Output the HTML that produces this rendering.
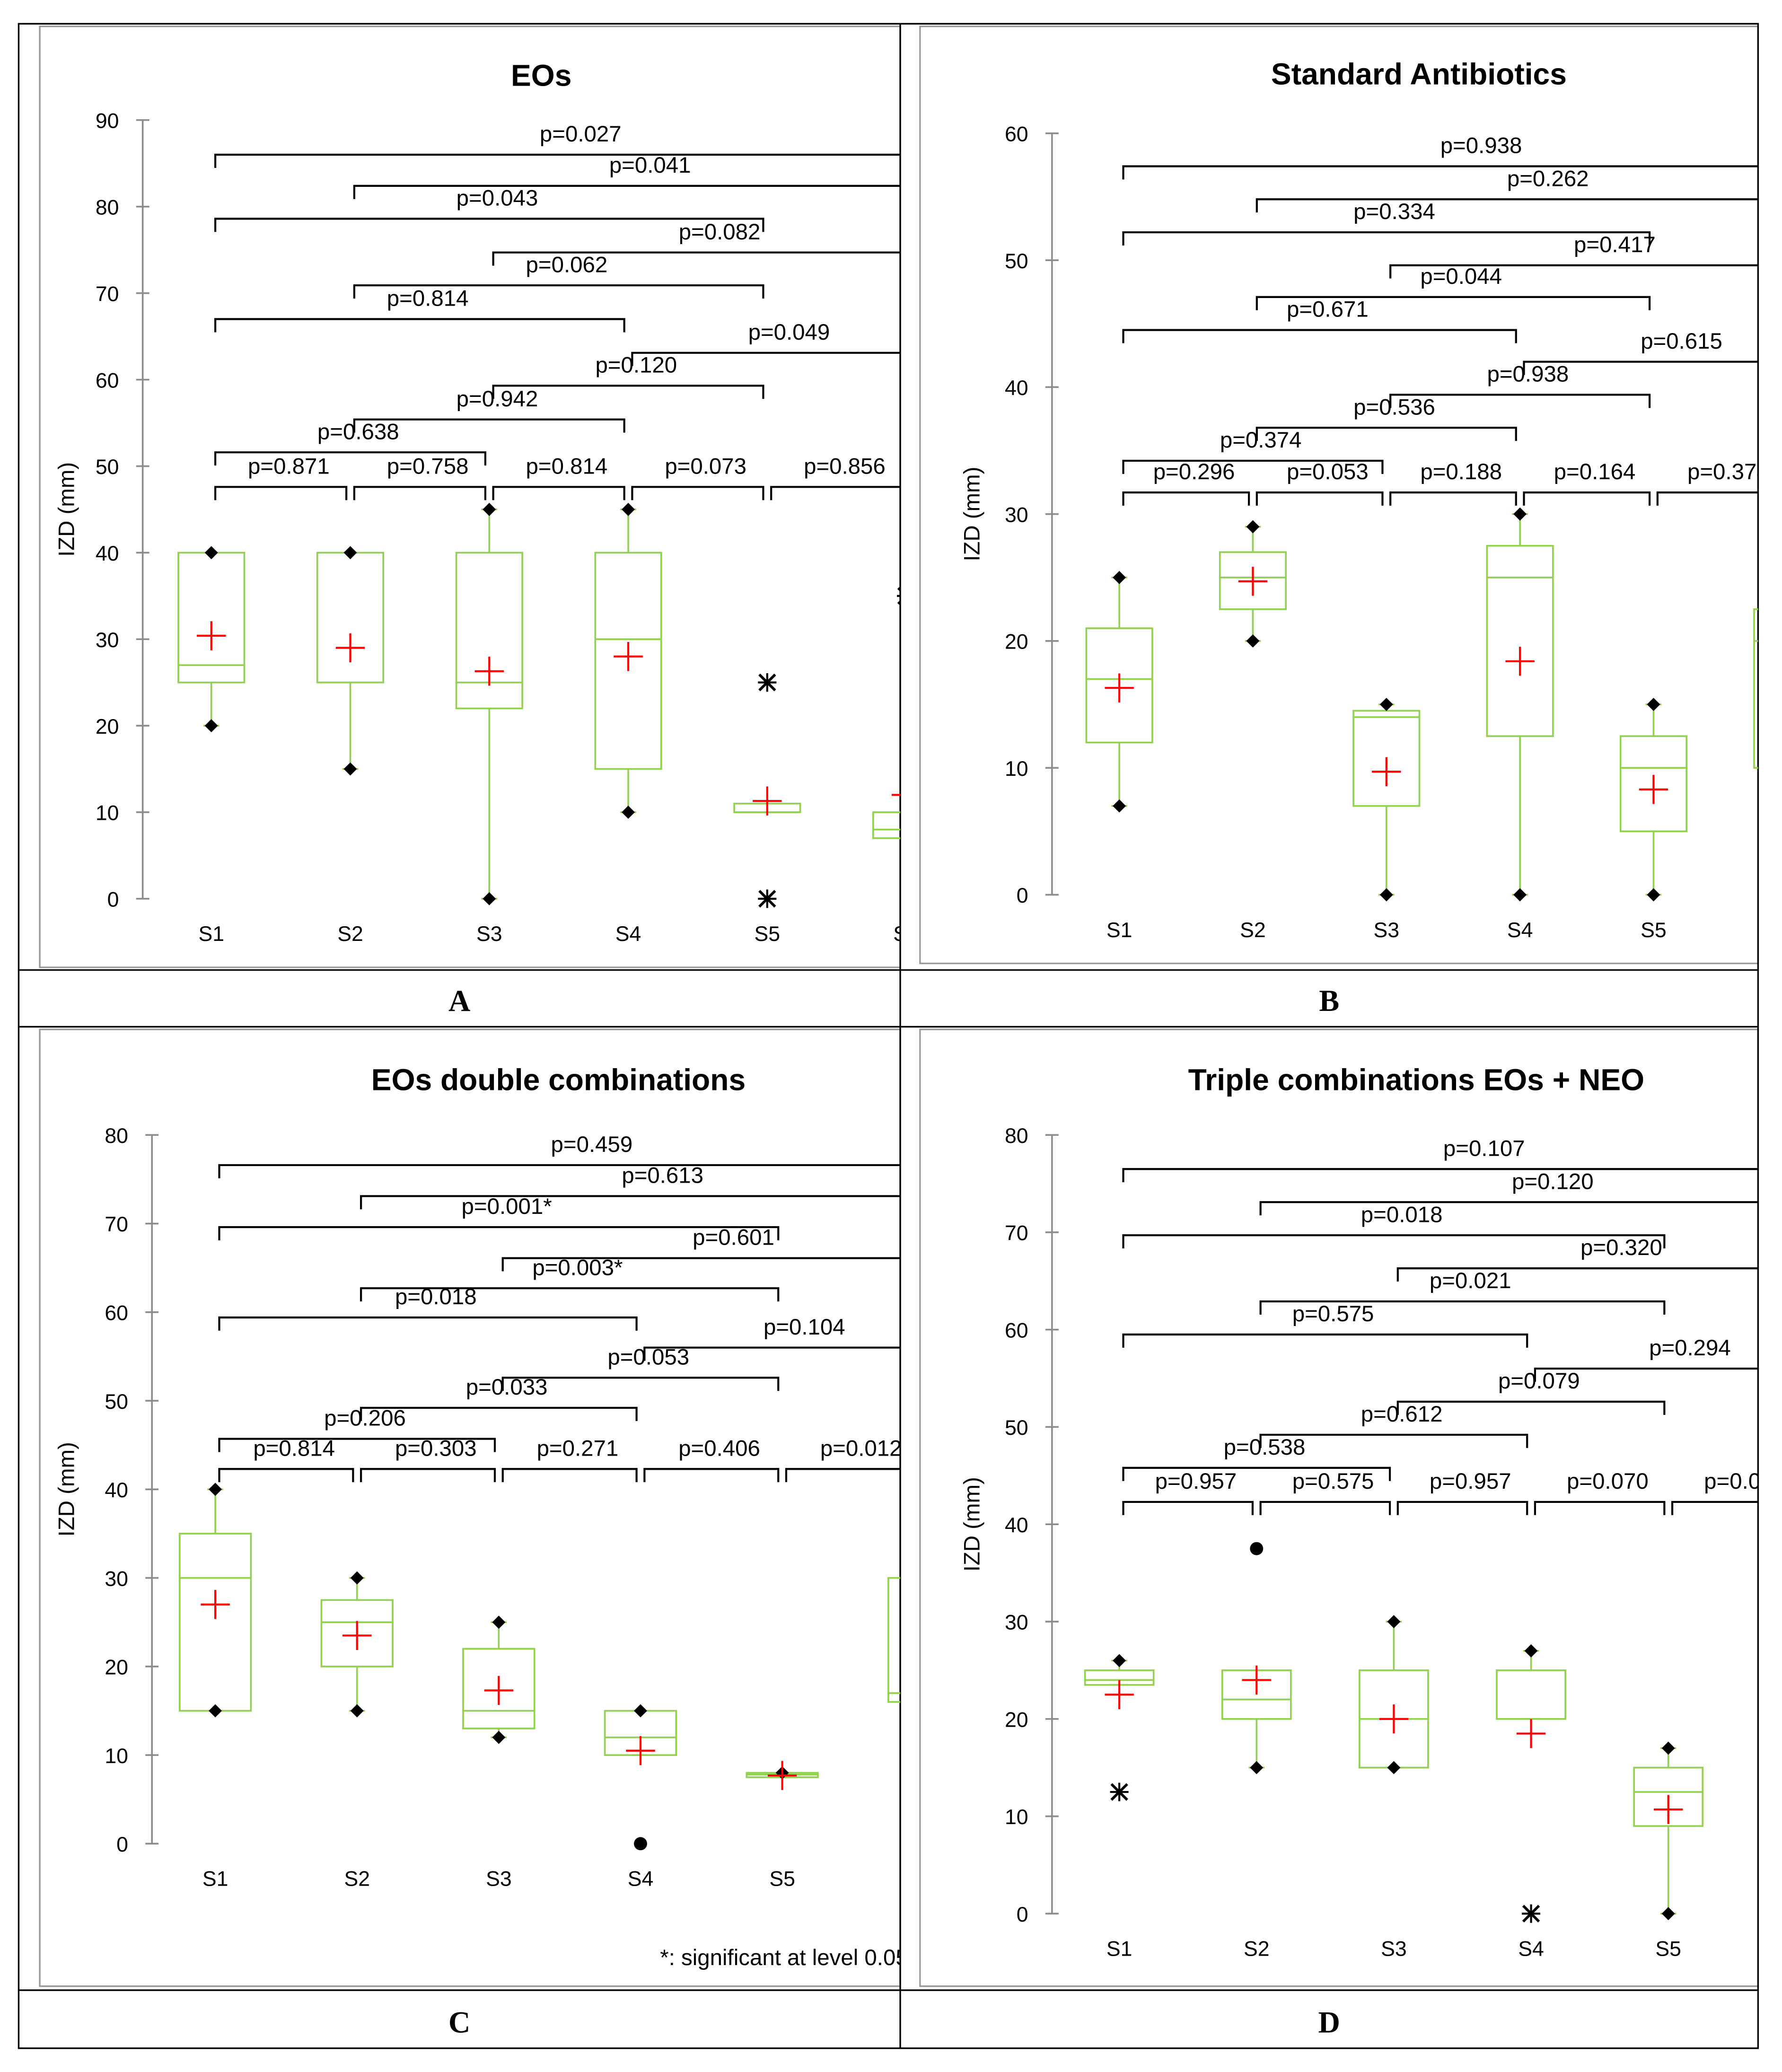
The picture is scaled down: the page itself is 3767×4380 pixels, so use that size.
<!DOCTYPE html>
<html><head><meta charset="utf-8">
<style>
html,body{margin:0;padding:0;background:#fff;}
svg{display:block;}
text{font-family:"Liberation Sans",sans-serif;}
</style></head>
<body>
<svg id="fig" xmlns="http://www.w3.org/2000/svg" width="3767" height="4380" viewBox="0 0 1350 1570">
<rect x="0" y="0" width="1350" height="1570" fill="#fff"/>
<defs>
<clipPath id="clipA"><rect x="30" y="20" width="652" height="713"/></clipPath>
<clipPath id="clipB"><rect x="697" y="20" width="635" height="712"/></clipPath>
<clipPath id="clipC"><rect x="30" y="780" width="652" height="725"/></clipPath>
<clipPath id="clipD"><rect x="697" y="780" width="635" height="725"/></clipPath>
</defs>
<g fill="none" stroke="#999" stroke-width="1.2">
<rect x="30" y="20" width="652" height="713"/>
<rect x="697" y="20" width="635" height="710"/>
<rect x="30" y="780" width="652" height="725"/>
<rect x="697" y="780" width="635" height="725"/>
</g>
<g fill="none" stroke="#000" stroke-width="1.2">
<rect x="14" y="18" width="1318" height="1534"/>
<line x1="14" y1="735" x2="1332" y2="735"/>
<line x1="14" y1="778" x2="1332" y2="778"/>
<line x1="14" y1="1508" x2="1332" y2="1508"/>
<line x1="682" y1="18" x2="682" y2="1552"/>
</g>
<g style="font-family:'Liberation Serif',serif;font-weight:bold;font-size:23px" text-anchor="middle">
<text style="font-family:'Liberation Serif',serif" x="348" y="766">A</text>
<text style="font-family:'Liberation Serif',serif" x="1007" y="766">B</text>
<text style="font-family:'Liberation Serif',serif" x="348" y="1540">C</text>
<text style="font-family:'Liberation Serif',serif" x="1007" y="1540">D</text>
</g>
<g id="panels"></g>
</svg>
<script>
// ---- Panel A: EOs ----
const catsA = ["S1","S2","S3","S4","S5","S6"];
const minA  = [20,15,0,10,10,7];
const q1A   = [25,25,22,15,10,7];
const medA  = [27,25,25,30,10,8];
const q3A   = [40,40,40,40,11,10];
const maxA  = [40,40,45,45,11,10];
const meanA = [30.4,29,26.3,28,11.3,12];
const minMarkA = [1,1,1,1,0,0];
const maxMarkA = [1,1,1,1,0,0];
const outA_cat = [4,4,5];
const outA_val = [25,0,35];
const brFromA = [0,1,0,2,1,0,3,2,1,0,0,1,2,3,4];
const brToA   = [5.2,5.2,4,5.2,4,3,5.2,4,3,2,1,2,3,4,5];
const brLevA  = [86,82.4,78.6,74.7,70.9,67,63.1,59.3,55.4,51.6,47.6,47.6,47.6,47.6,47.6];
const brLabA  = ["p=0.027","p=0.041","p=0.043","p=0.082","p=0.062","p=0.814","p=0.049","p=0.120","p=0.942","p=0.638","p=0.871","p=0.758","p=0.814","p=0.073","p=0.856"];
const ticksA = [0,10,20,30,40,50,60,70,80,90];

// ---- Panel B: Standard Antibiotics ----
const catsB = ["S1","S2","S3","S4","S5","S6"];
const minB  = [7,20,0,0,0,10];
const q1B   = [12,22.5,7,12.5,5,10];
const medB  = [17,25,14,25,10,20];
const q3B   = [21,27,14.5,27.5,12.5,22.5];
const maxB  = [25,29,15,30,15,22.5];
const meanB = [16.3,24.7,9.7,18.4,8.3,18];
const minMarkB = [1,1,1,1,1,0];
const maxMarkB = [1,1,1,1,1,0];
const outB_cat = [];
const outB_val = [];
const brFromB = [0,1,0,2,1,0,3,2,1,0,0,1,2,3,4];
const brToB   = [5.3,5.3,4,5.3,4,3,5.3,4,3,2,1,2,3,4,5];
const brLevB  = [57.4,54.8,52.2,49.6,47.1,44.5,42,39.4,36.8,34.2,31.7,31.7,31.7,31.7,31.7];
const brLabB  = ["p=0.938","p=0.262","p=0.334","p=0.417","p=0.044","p=0.671","p=0.615","p=0.938","p=0.536","p=0.374","p=0.296","p=0.053","p=0.188","p=0.164","p=0.374"];
const ticksB = [0,10,20,30,40,50,60];

// ---- Panel C: EOs double combinations ----
const catsC = ["S1","S2","S3","S4","S5","S6"];
const minC  = [15,15,12,10,7.5,16];
const q1C   = [15,20,13,10,7.5,16];
const medC  = [30,25,15,12,7.8,17];
const q3C   = [35,27.5,22,15,8,30];
const maxC  = [40,30,25,15,8,30];
const meanC = [27,23.5,17.3,10.5,7.7,22];
const minMarkC = [1,1,1,0,0,0];
const maxMarkC = [1,1,1,1,1,0];
const outC_cat = [3];
const outC_val = [0];
const brFromC = [0,1,0,2,1,0,3,2,1,0,0,1,2,3,4];
const brToC   = [5.2,5.2,4,5.2,4,3,5.2,4,3,2,1,2,3,4,5];
const brLevC  = [76.6,73.1,69.6,66.1,62.7,59.4,56,52.6,49.2,45.7,42.3,42.3,42.3,42.3,42.3];
const brLabC  = ["p=0.459","p=0.613","p=0.001*","p=0.601","p=0.003*","p=0.018","p=0.104","p=0.053","p=0.033","p=0.206","p=0.814","p=0.303","p=0.271","p=0.406","p=0.012"];
const ticksC = [0,10,20,30,40,50,60,70,80];

// ---- Panel D: Triple combinations ----
const catsD = ["S1","S2","S3","S4","S5","S6"];
const minD  = [23.5,15,15,20,0,20];
const q1D   = [23.5,20,15,20,9,20];
const medD  = [24,22,20,20,12.5,22];
const q3D   = [25,25,25,25,15,25];
const maxD  = [26,25,30,27,17,25];
const meanD = [22.5,24,20,18.5,10.7,22];
const minMarkD = [0,1,1,0,1,0];
const maxMarkD = [1,0,1,1,1,0];
const outD_cat = [0,1,3];
const outD_val = [12.5,37.5,0];
const outD_kind = ["x","dot","x"];
const brFromD = [0,1,0,2,1,0,3,2,1,0,0,1,2,3,4];
const brToD   = [5.2,5.2,4,5.2,4,3,5.2,4,3,2,1,2,3,4,5];
const brLevD  = [76.5,73.1,69.7,66.3,62.9,59.5,56,52.6,49.2,45.8,42.3,42.3,42.3,42.3,42.3];
const brLabD  = ["p=0.107","p=0.120","p=0.018","p=0.320","p=0.021","p=0.575","p=0.294","p=0.079","p=0.612","p=0.538","p=0.957","p=0.575","p=0.957","p=0.070","p=0.098"];
const ticksD = [0,10,20,30,40,50,60,70,80];

const NS = "http://www.w3.org/2000/svg";
function mk(tag, attrs, parent){
  const e = document.createElementNS(NS, tag);
  for (const k in attrs) e.setAttribute(k, attrs[k]);
  parent.appendChild(e);
  return e;
}
const root = document.getElementById("panels");

function drawPanel(p){
  const g = mk("g", {"clip-path":"url(#"+p.clip+")"}, root);
  
  
  const yS = v => p.y0 - v * (p.y0 - p.yTop) / p.vMax;
  const xS = i => p.x0 + i * p.dx;
  const t = mk("text", {x:p.titleX, y:p.titleY, "text-anchor":"middle", "font-size":"23", "font-weight":"bold"}, g);
  t.textContent = p.title;
  
  
  const ax = mk("line", {x1:p.ax, y1:yS(0), x2:p.ax, y2:yS(p.vMax), stroke:"#8c8c8c", "stroke-width":"1.3"}, g);
  
  
  p.ticks.forEach(v => {
    mk("line", {x1:p.ax-5, x2:p.ax+5, y1:yS(v), y2:yS(v), stroke:"#8c8c8c", "stroke-width":"1.3"}, g);
    const tl = mk("text", {x:p.ax-18, y:yS(v)+6, "text-anchor":"end", "font-size":"16"}, g);
    tl.textContent = v;
    
    
  });
  const yl = mk("text", {x:0, y:0, "text-anchor":"middle", "font-size":"17", transform:"translate("+p.ylabX+","+((yS(0)+yS(p.vMax))/2)+") rotate(-90)"}, g);
  yl.textContent = "IZD (mm)";
  
  
  p.cats.forEach((c, i) => {
    const cl = mk("text", {x:xS(i), y:yS(0)+32, "text-anchor":"middle", "font-size":"16"}, g);
    cl.textContent = c;
    
    
  });
  const green = "#92d050";
  p.cats.forEach((c, i) => {
    const bg = mk("g", {}, g);
    
    
    const x = xS(i), hw = p.hw;
    mk("line", {x1:x, x2:x, y1:yS(p.min[i]), y2:yS(p.q1[i]), stroke:green, "stroke-width":"1.3"}, bg);
    mk("line", {x1:x, x2:x, y1:yS(p.q3[i]), y2:yS(p.max[i]), stroke:green, "stroke-width":"1.3"}, bg);
    mk("line", {x1:x-6, x2:x+6, y1:yS(p.min[i]), y2:yS(p.min[i]), stroke:green, "stroke-width":"1.3"}, bg);
    mk("line", {x1:x-6, x2:x+6, y1:yS(p.max[i]), y2:yS(p.max[i]), stroke:green, "stroke-width":"1.3"}, bg);
    mk("rect", {x:x-hw, y:yS(p.q3[i]), width:2*hw, height:Math.max(1, yS(p.q1[i])-yS(p.q3[i])), fill:"none", stroke:green, "stroke-width":"1.3"}, bg);
    mk("line", {x1:x-hw, x2:x+hw, y1:yS(p.med[i]), y2:yS(p.med[i]), stroke:green, "stroke-width":"1.3"}, bg);
    const marks = [];
    if (p.minMark[i]) marks.push(p.min[i]);
    if (p.maxMark[i]) marks.push(p.max[i]);
    marks.forEach(v => {
      const y = yS(v);
      mk("polygon", {points:(x)+","+(y-5)+" "+(x+5)+","+y+" "+x+","+(y+5)+" "+(x-5)+","+y, fill:"#000"}, bg);
    });
    const my = yS(p.mean[i]);
    mk("line", {x1:x-11, x2:x+11, y1:my, y2:my, stroke:"#ff0000", "stroke-width":"1.5"}, bg);
    mk("line", {x1:x, x2:x, y1:my-11, y2:my+11, stroke:"#ff0000", "stroke-width":"1.5"}, bg);
  });
  p.outCat.forEach((ci, k) => {
    const x = xS(ci), y = yS(p.outVal[k]);
    const kind = p.outKind ? p.outKind[k] : (p.defKind || "x");
    const og = mk("g", {}, g);
    
    
    if (kind === "dot") {
      mk("circle", {cx:x, cy:y, r:5, fill:"#000"}, og);
    } else {
      mk("line", {x1:x-6, y1:y-6, x2:x+6, y2:y+6, stroke:"#000", "stroke-width":"2"}, og);
      mk("line", {x1:x-6, y1:y+6, x2:x+6, y2:y-6, stroke:"#000", "stroke-width":"2"}, og);
      mk("line", {x1:x-7, y1:y, x2:x+7, y2:y, stroke:"#000", "stroke-width":"1.5"}, og);
      mk("line", {x1:x, y1:y-7, x2:x, y2:y+7, stroke:"#000", "stroke-width":"1.5"}, og);
    }
  });
  p.brFrom.forEach((f, k) => {
    const bg = mk("g", {}, g);
    
    
    const x1 = xS(f) + 3, x2 = xS(p.brTo[k]) - 3, y = yS(p.brLev[k]);
    mk("polyline", {points:x1+","+(y+10)+" "+x1+","+y+" "+x2+","+y+" "+x2+","+(y+10), fill:"none", stroke:"#000", "stroke-width":"1.5"}, bg);
    const tl = mk("text", {x:(x1+x2)/2+6, y:y-10, "text-anchor":"middle", "font-size":"17"}, bg);
    tl.textContent = p.brLab[k];
  });
}

drawPanel({id:"panel-a", clip:"clipA", title:"EOs", titleX:410, titleY:65, cats:catsA,
  min:minA,q1:q1A,med:medA,q3:q3A,max:maxA,mean:meanA, minMark:minMarkA, maxMark:maxMarkA, outCat:outA_cat, outVal:outA_val, defKind:"x",
  brFrom:brFromA, brTo:brToA, brLev:brLevA, brLab:brLabA, ticks:ticksA,
  vMax:90, y0:681, yTop:91, ax:108, x0:160, dx:105.3, hw:25, ylabX:56});
drawPanel({id:"panel-b", clip:"clipB", title:"Standard Antibiotics", titleX:1075, titleY:64, cats:catsB,
  min:minB,q1:q1B,med:medB,q3:q3B,max:maxB,mean:meanB, minMark:minMarkB, maxMark:maxMarkB, outCat:outB_cat, outVal:outB_val,
  brFrom:brFromB, brTo:brToB, brLev:brLevB, brLab:brLabB, ticks:ticksB,
  vMax:60, y0:678, yTop:101, ax:797, x0:848, dx:101.2, hw:25, ylabX:742});
drawPanel({id:"panel-c", clip:"clipC", title:"EOs double combinations", titleX:423, titleY:826, cats:catsC,
  min:minC,q1:q1C,med:medC,q3:q3C,max:maxC,mean:meanC, minMark:minMarkC, maxMark:maxMarkC, outCat:outC_cat, outVal:outC_val, defKind:"dot",
  brFrom:brFromC, brTo:brToC, brLev:brLevC, brLab:brLabC, ticks:ticksC,
  vMax:80, y0:1397, yTop:860, ax:115, x0:163, dx:107.4, hw:27, ylabX:56});
drawPanel({id:"panel-d", clip:"clipD", title:"Triple combinations EOs + NEO", titleX:1073, titleY:826, cats:catsD,
  min:minD,q1:q1D,med:medD,q3:q3D,max:maxD,mean:meanD, minMark:minMarkD, maxMark:maxMarkD, outCat:outD_cat, outVal:outD_val, outKind:outD_kind,
  brFrom:brFromD, brTo:brToD, brLev:brLevD, brLab:brLabD, ticks:ticksD,
  vMax:80, y0:1450, yTop:860, ax:797, x0:848, dx:104, hw:26, ylabX:742});

const fg = document.createElementNS(NS, "g");
fg.setAttribute("clip-path", "url(#clipC)");
root.appendChild(fg);
const foot = mk("text", {x:500, y:1489, "font-size":"17"}, fg);
foot.textContent = "*: significant at level 0.05";


</script>
</body></html>
